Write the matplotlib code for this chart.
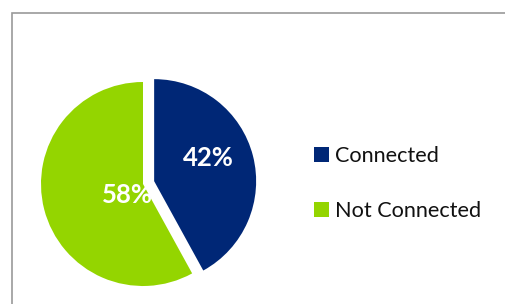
import matplotlib.pyplot as plt
from matplotlib.patches import Rectangle

labels = ['Connected', 'Not Connected']
shares = [42, 58]
colors = ['#002776', '#94D500']
explode = [11.5, 0.0]   # pixels, since the axes are in pixel units

plt.rcParams['font.family'] = ['Lato', 'DejaVu Sans']

W, H = 505, 304
fig = plt.figure(figsize=(W / 100, H / 100), dpi=100)
ax = fig.add_axes([0, 0, 1, 1])

# chart frame (only top and left edges show in the crop)
fig.patches.append(Rectangle((12 / W, -0.1), 1.2, (H - 13) / H + 0.1,
                             transform=fig.transFigure, fill=False,
                             edgecolor='#9a9a9a', linewidth=1.2))

wedges, texts, autotexts = ax.pie(
    shares, colors=colors, explode=explode, startangle=90, counterclock=False,
    center=(143, 120), radius=102, autopct='%d%%', pctdistance=0.55,
    textprops=dict(color='white', fontsize=18.5, fontweight='bold'),
    wedgeprops=dict(linewidth=0), frame=True)
ax.set_xlim(0, W)
ax.set_ylim(0, H)
ax.axis('off')

autotexts[0].set_position((208, H - 157.5))
autotexts[1].set_position((127, H - 195))
for t in autotexts:
    t.set_ha('center')
    t.set_va('center')

leg = ax.legend(wedges, labels, loc='upper left',
                bbox_to_anchor=(314 / W, (H - 146) / H),
                frameon=False, fontsize=15.6, handlelength=0.68,
                handleheight=0.68, handletextpad=0.28, labelspacing=1.6,
                borderpad=0, borderaxespad=0)
for t in leg.get_texts():
    t.set_color('#111111')

fig.savefig('out.png', dpi=100)
